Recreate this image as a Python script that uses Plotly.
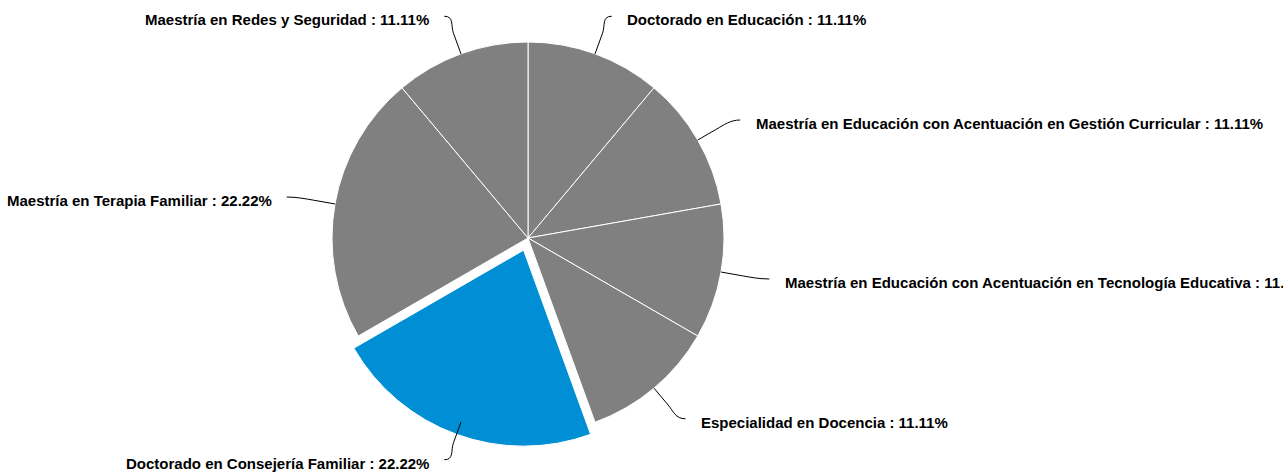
import math
import plotly.graph_objects as go

# ---- data ----
categories = [
    "Doctorado en Educación",
    "Maestría en Educación con Acentuación en Gestión Curricular",
    "Maestría en Educación con Acentuación en Tecnología Educativa",
    "Especialidad en Docencia",
    "Doctorado en Consejería Familiar",
    "Maestría en Terapia Familiar",
    "Maestría en Redes y Seguridad",
]
counts = [1, 1, 1, 1, 2, 2, 1]
highlighted = "Doctorado en Consejería Familiar"

# ---- layout constants ----
W, H = 1283, 472
CX, CY, R = 528, 238, 196
PULL = 0.066
R_LAB_X = 245
R_LAB_Y = 236
R_BRK = R + 22
GRAY = "#808080"
BLUE = "#008fd5"

total = sum(counts)
half = R * (1 + PULL)
colors = [BLUE if c == highlighted else GRAY for c in categories]
pulls = [PULL if c == highlighted else 0 for c in categories]

fig = go.Figure()
fig.add_trace(go.Pie(
    labels=categories, values=counts, sort=False, direction="clockwise", rotation=0,
    marker=dict(colors=colors, line=dict(color="white", width=1)),
    pull=pulls, textinfo="none", hoverinfo="skip", showlegend=False,
    domain=dict(x=[(CX - half) / W, (CX + half) / W],
                y=[1 - (CY + half) / H, 1 - (CY - half) / H]),
))
# invisible helper trace for pixel axes
fig.add_trace(go.Scatter(x=[0, W], y=[0, H], mode="markers", marker=dict(opacity=0),
                         hoverinfo="skip", showlegend=False))

shapes, annotations = [], []
cum = 0
for name, v in zip(categories, counts):
    mid = (cum + v / 2) / total * 2 * math.pi
    cum += v
    s, c = math.sin(mid), -math.cos(mid)
    side = 1 if s >= 0 else -1
    T = (CX + R * s, CY + R * c)
    B = (CX + R_BRK * s, CY + R_BRK * c)
    E = (CX + R_LAB_X * s, CY + R_LAB_Y * c)
    P1 = (E[0] - side * 10, E[1])
    P2 = (B[0] + s * 8, B[1] + c * 8)
    path = (f"M {E[0]:.2f},{E[1]:.2f} C {P1[0]:.2f},{P1[1]:.2f} {P2[0]:.2f},{P2[1]:.2f} "
            f"{B[0]:.2f},{B[1]:.2f} L {T[0]:.2f},{T[1]:.2f}")
    shapes.append(dict(type="path", path=path, xref="x", yref="y",
                       line=dict(color="#000000", width=1)))
    pct = v / total * 100
    annotations.append(dict(
        x=E[0] + side * (13.5 if side > 0 else 13), y=E[1] + 3.5, xref="x", yref="y",
        xanchor="left" if side > 0 else "right", yanchor="middle",
        text=f"<b>{name} : {pct:.2f}%</b>", showarrow=False,
        font=dict(family="Liberation Sans, Arial, sans-serif", size=15, color="#000000"),
    ))

fig.update_layout(
    width=W, height=H, margin=dict(l=0, r=0, t=0, b=0),
    paper_bgcolor="white", plot_bgcolor="rgba(0,0,0,0)",
    xaxis=dict(range=[0, W], visible=False, fixedrange=True),
    yaxis=dict(range=[H, 0], visible=False, fixedrange=True),
    shapes=shapes, annotations=annotations,
)

fig.write_html("out.html", config={"displayModeBar": False})
with open("out.html", encoding="utf-8") as f:
    html = f.read()
html = html.replace("<head>", "<head><style>body{margin:0;overflow:hidden}</style>", 1)
with open("out.html", "w", encoding="utf-8") as f:
    f.write(html)
